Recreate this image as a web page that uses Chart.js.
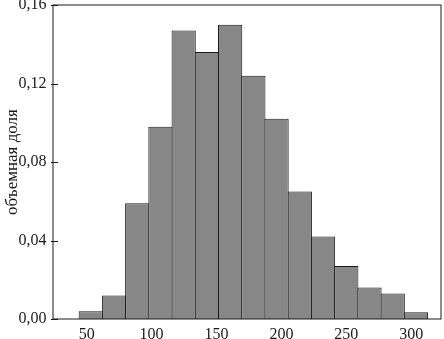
<!DOCTYPE html>
<html>
<head>
<meta charset="utf-8">
<script src="https://cdn.jsdelivr.net/npm/chart.js@4"></script>
<style>
  html, body { margin: 0; padding: 0; background: #fff; }
</style>
</head>
<body>
<canvas id="chart" width="444" height="339"></canvas>
<script>
// bin centres (x) and volume fractions
const binCenters = [53.1, 71.0, 88.9, 106.8, 124.7, 142.6, 160.5, 178.4, 196.3, 214.2, 232.1, 250.0, 267.9, 285.8, 303.7];
const volumeFraction = [0.004, 0.012, 0.059, 0.098, 0.147, 0.136, 0.150, 0.124, 0.102, 0.065, 0.042, 0.027, 0.016, 0.013, 0.0035];

const xTickValues = [50, 100, 150, 200, 250, 300];
const xTickLabels = ["50", "100", "150", "200", "250", "300"];
const yTickValues = [0, 0.04, 0.08, 0.12, 0.16];
const yTickLabels = ["0,00", "0,04", "0,08", "0,12", "0,16"];

const yTitle = "объемная доля";
const ink = "#1a1a1a";
const serif = "'Liberation Serif', 'Times New Roman', serif";

// box around the plot area + short inward ticks on the y axis
const framePlugin = {
    id: "frame",
    afterDraw(chart) {
        const { ctx, chartArea: a } = chart;
        const y = chart.scales.y;
        ctx.save();
        ctx.strokeStyle = ink;
        ctx.lineWidth = 1;
        ctx.strokeRect(a.left, a.top, a.right - a.left, a.bottom - a.top);
        ctx.beginPath();
        y.ticks.forEach(t => {
            const py = Math.round(y.getPixelForValue(t.value)) + 0.5;
            ctx.moveTo(a.left - 2, py);
            ctx.lineTo(a.left + 5, py);
        });
        ctx.stroke();
        ctx.restore();
    }
};

function noPad(scale) {
    scale.paddingTop = 0;
    scale.paddingBottom = 0;
    scale.paddingLeft = 0;
    scale.paddingRight = 0;
}

new Chart(document.getElementById("chart"), {
    type: "bar",
    data: {
        datasets: [{
            data: binCenters.map((x, i) => ({ x: x, y: volumeFraction[i] })),
            backgroundColor: "#878787",
            borderColor: ink,
            borderWidth: 1,
            barPercentage: 1.043,
            categoryPercentage: 1
        }]
    },
    options: {
        responsive: false,
        animation: false,
        layout: { padding: { left: 0, top: 5, right: 3, bottom: 0 } },
        plugins: {
            legend: { display: false },
            tooltip: { enabled: false }
        },
        scales: {
            x: {
                type: "linear",
                offset: false,
                min: 24,
                max: 323,
                grid: { display: false, drawTicks: false },
                border: { display: false },
                ticks: {
                    color: ink,
                    font: { family: serif, size: 16 },
                    padding: 6,
                    maxRotation: 0,
                    callback: (v) => xTickLabels[xTickValues.indexOf(v)]
                },
                afterBuildTicks: (s) => { s.ticks = xTickValues.map(v => ({ value: v })); },
                afterFit: (s) => { s.height = 20; noPad(s); }
            },
            y: {
                min: 0,
                max: 0.16,
                grid: { display: false, drawTicks: false },
                border: { display: false },
                ticks: {
                    color: ink,
                    font: { family: serif, size: 16 },
                    padding: 6.5,
                    callback: (v, i) => yTickLabels[i]
                },
                title: {
                    display: true,
                    text: yTitle,
                    color: ink,
                    font: { family: serif, size: 17 },
                    padding: { top: 2, bottom: 0 }
                },
                afterBuildTicks: (s) => { s.ticks = yTickValues.map(v => ({ value: v })); },
                afterFit: (s) => { s.width = 53; noPad(s); }
            }
        }
    },
    plugins: [framePlugin]
});
</script>
</body>
</html>
